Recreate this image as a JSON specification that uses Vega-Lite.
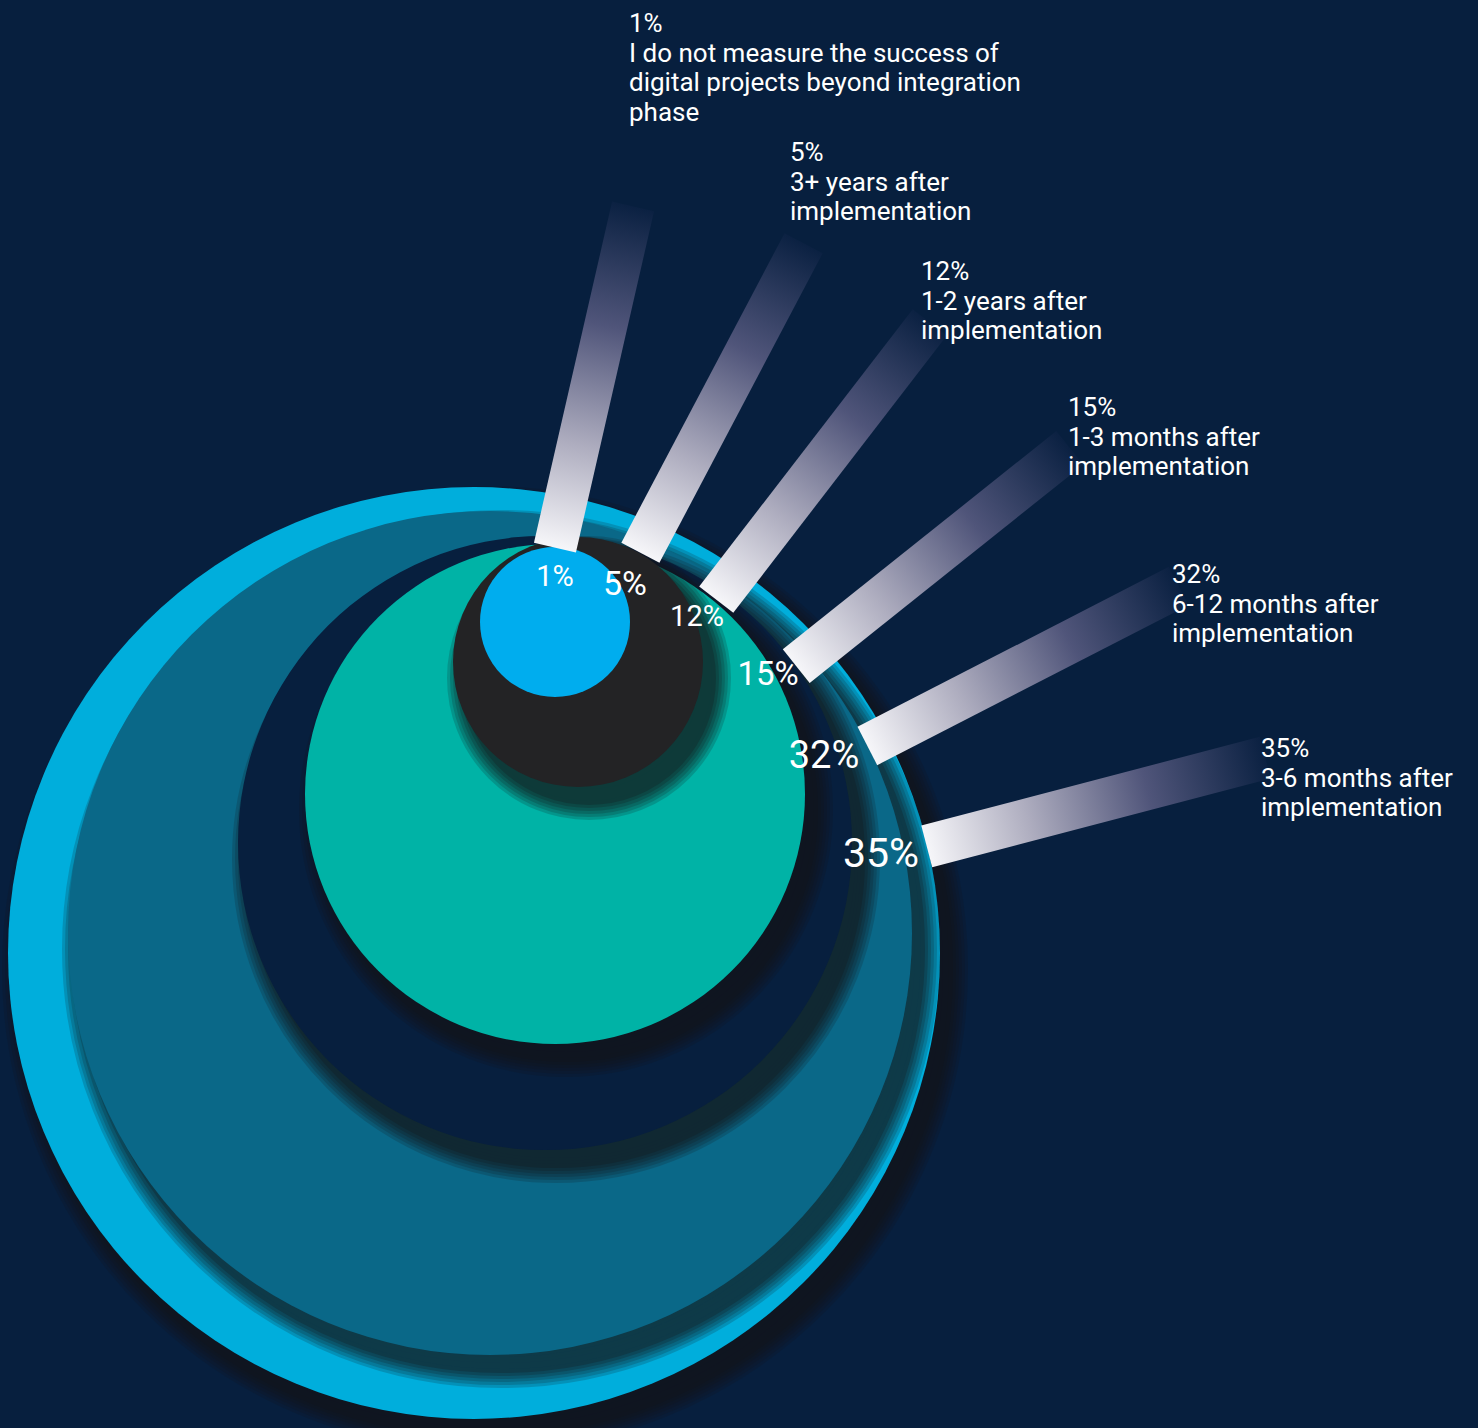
{
  "$schema": "https://vega.github.io/schema/vega-lite/v6.json",
  "width": 1478,
  "height": 1428,
  "autosize": {"type": "none"},
  "padding": 0,
  "background": "#071f3e",
  "config": {"view": {"stroke": null}, "font": "Roboto"},
  "data": {
    "values": [
      {"pct": 0.01, "answer": "I do not measure the success of\ndigital projects beyond integration\nphase"},
      {"pct": 0.05, "answer": "3+ years after\nimplementation"},
      {"pct": 0.12, "answer": "1-2 years after\nimplementation"},
      {"pct": 0.15, "answer": "1-3 months after\nimplementation"},
      {"pct": 0.32, "answer": "6-12 months after\nimplementation"},
      {"pct": 0.35, "answer": "3-6 months after\nimplementation"}
    ]
  },
  "resolve": {"scale": {"x": "independent", "y": "independent", "size": "independent"}},
  "layer": [
    {
      "encoding": {
        "x": {"field": "pct", "type": "quantitative", "axis": null, "scale": {"domain": [0.01,0.05,0.12,0.15,0.32,0.35], "range": [555,578,555,545,490,474], "zero": false, "nice": false}},
        "y": {"field": "pct", "type": "quantitative", "axis": null, "scale": {"domain": [0.01,0.05,0.12,0.15,0.32,0.35], "range": [622,662,794,843,933,953], "zero": false, "nice": false}},
        "size": {"field": "pct", "type": "quantitative", "legend": null, "scale": {"domain": [0.01,0.05,0.12,0.15,0.32,0.35], "range": [22500,62500,250000,376996,712336,868624], "zero": false, "nice": false}}
      },
      "layer": [
        {"transform": [{"filter": "datum.pct === 0.35"}], "layer": [
          {"mark": {"type": "point", "shape": "circle", "filled": true, "fill": "#141418", "stroke": "#141418", "strokeWidth": 34, "opacity": 0.18, "xOffset": 11, "yOffset": 16}},
          {"mark": {"type": "point", "shape": "circle", "filled": true, "fill": "#141418", "stroke": "#141418", "strokeWidth": 28, "opacity": 0.18, "xOffset": 11, "yOffset": 16}},
          {"mark": {"type": "point", "shape": "circle", "filled": true, "fill": "#141418", "stroke": "#141418", "strokeWidth": 22, "opacity": 0.18, "xOffset": 11, "yOffset": 16}},
          {"mark": {"type": "point", "shape": "circle", "filled": true, "fill": "#141418", "stroke": "#141418", "strokeWidth": 16, "opacity": 0.2, "xOffset": 11, "yOffset": 16}},
          {"mark": {"type": "point", "shape": "circle", "filled": true, "fill": "#141418", "stroke": "#141418", "strokeWidth": 10, "opacity": 0.22, "xOffset": 11, "yOffset": 16}},
          {"mark": {"type": "point", "shape": "circle", "filled": true, "fill": "#141418", "stroke": "#141418", "strokeWidth": 4, "opacity": 0.25, "xOffset": 11, "yOffset": 16}},
          {"mark": {"type": "point", "shape": "circle", "filled": true, "opacity": 1, "strokeWidth": 0}, "encoding": {"color": {"field": "pct", "type": "nominal", "legend": null, "scale": {"domain": [0.01,0.05,0.12,0.15,0.32,0.35], "range": ["#00adee","#232325","#00b3a6","#071f3e","#0a6888","#00aedc"]}}}}
        ]},
        {"transform": [{"filter": "datum.pct === 0.32"}], "layer": [
          {"mark": {"type": "point", "shape": "circle", "filled": true, "fill": "#141418", "stroke": "#141418", "strokeWidth": 34, "opacity": 0.18, "xOffset": 11, "yOffset": 16}},
          {"mark": {"type": "point", "shape": "circle", "filled": true, "fill": "#141418", "stroke": "#141418", "strokeWidth": 28, "opacity": 0.18, "xOffset": 11, "yOffset": 16}},
          {"mark": {"type": "point", "shape": "circle", "filled": true, "fill": "#141418", "stroke": "#141418", "strokeWidth": 22, "opacity": 0.18, "xOffset": 11, "yOffset": 16}},
          {"mark": {"type": "point", "shape": "circle", "filled": true, "fill": "#141418", "stroke": "#141418", "strokeWidth": 16, "opacity": 0.2, "xOffset": 11, "yOffset": 16}},
          {"mark": {"type": "point", "shape": "circle", "filled": true, "fill": "#141418", "stroke": "#141418", "strokeWidth": 10, "opacity": 0.22, "xOffset": 11, "yOffset": 16}},
          {"mark": {"type": "point", "shape": "circle", "filled": true, "fill": "#141418", "stroke": "#141418", "strokeWidth": 4, "opacity": 0.25, "xOffset": 11, "yOffset": 16}},
          {"mark": {"type": "point", "shape": "circle", "filled": true, "opacity": 1, "strokeWidth": 0}, "encoding": {"color": {"field": "pct", "type": "nominal", "legend": null, "scale": {"domain": [0.01,0.05,0.12,0.15,0.32,0.35], "range": ["#00adee","#232325","#00b3a6","#071f3e","#0a6888","#00aedc"]}}}}
        ]},
        {"transform": [{"filter": "datum.pct === 0.15"}], "layer": [
          {"mark": {"type": "point", "shape": "circle", "filled": true, "fill": "#141418", "stroke": "#141418", "strokeWidth": 34, "opacity": 0.18, "xOffset": 11, "yOffset": 16}},
          {"mark": {"type": "point", "shape": "circle", "filled": true, "fill": "#141418", "stroke": "#141418", "strokeWidth": 28, "opacity": 0.18, "xOffset": 11, "yOffset": 16}},
          {"mark": {"type": "point", "shape": "circle", "filled": true, "fill": "#141418", "stroke": "#141418", "strokeWidth": 22, "opacity": 0.18, "xOffset": 11, "yOffset": 16}},
          {"mark": {"type": "point", "shape": "circle", "filled": true, "fill": "#141418", "stroke": "#141418", "strokeWidth": 16, "opacity": 0.2, "xOffset": 11, "yOffset": 16}},
          {"mark": {"type": "point", "shape": "circle", "filled": true, "fill": "#141418", "stroke": "#141418", "strokeWidth": 10, "opacity": 0.22, "xOffset": 11, "yOffset": 16}},
          {"mark": {"type": "point", "shape": "circle", "filled": true, "fill": "#141418", "stroke": "#141418", "strokeWidth": 4, "opacity": 0.25, "xOffset": 11, "yOffset": 16}},
          {"mark": {"type": "point", "shape": "circle", "filled": true, "opacity": 1, "strokeWidth": 0}, "encoding": {"color": {"field": "pct", "type": "nominal", "legend": null, "scale": {"domain": [0.01,0.05,0.12,0.15,0.32,0.35], "range": ["#00adee","#232325","#00b3a6","#071f3e","#0a6888","#00aedc"]}}}}
        ]},
        {"transform": [{"filter": "datum.pct === 0.12"}], "layer": [
          {"mark": {"type": "point", "shape": "circle", "filled": true, "fill": "#141418", "stroke": "#141418", "strokeWidth": 34, "opacity": 0.18, "xOffset": 11, "yOffset": 16}},
          {"mark": {"type": "point", "shape": "circle", "filled": true, "fill": "#141418", "stroke": "#141418", "strokeWidth": 28, "opacity": 0.18, "xOffset": 11, "yOffset": 16}},
          {"mark": {"type": "point", "shape": "circle", "filled": true, "fill": "#141418", "stroke": "#141418", "strokeWidth": 22, "opacity": 0.18, "xOffset": 11, "yOffset": 16}},
          {"mark": {"type": "point", "shape": "circle", "filled": true, "fill": "#141418", "stroke": "#141418", "strokeWidth": 16, "opacity": 0.2, "xOffset": 11, "yOffset": 16}},
          {"mark": {"type": "point", "shape": "circle", "filled": true, "fill": "#141418", "stroke": "#141418", "strokeWidth": 10, "opacity": 0.22, "xOffset": 11, "yOffset": 16}},
          {"mark": {"type": "point", "shape": "circle", "filled": true, "fill": "#141418", "stroke": "#141418", "strokeWidth": 4, "opacity": 0.25, "xOffset": 11, "yOffset": 16}},
          {"mark": {"type": "point", "shape": "circle", "filled": true, "opacity": 1, "strokeWidth": 0}, "encoding": {"color": {"field": "pct", "type": "nominal", "legend": null, "scale": {"domain": [0.01,0.05,0.12,0.15,0.32,0.35], "range": ["#00adee","#232325","#00b3a6","#071f3e","#0a6888","#00aedc"]}}}}
        ]},
        {"transform": [{"filter": "datum.pct === 0.05"}], "layer": [
          {"mark": {"type": "point", "shape": "circle", "filled": true, "fill": "#141418", "stroke": "#141418", "strokeWidth": 34, "opacity": 0.18, "xOffset": 11, "yOffset": 16}},
          {"mark": {"type": "point", "shape": "circle", "filled": true, "fill": "#141418", "stroke": "#141418", "strokeWidth": 28, "opacity": 0.18, "xOffset": 11, "yOffset": 16}},
          {"mark": {"type": "point", "shape": "circle", "filled": true, "fill": "#141418", "stroke": "#141418", "strokeWidth": 22, "opacity": 0.18, "xOffset": 11, "yOffset": 16}},
          {"mark": {"type": "point", "shape": "circle", "filled": true, "fill": "#141418", "stroke": "#141418", "strokeWidth": 16, "opacity": 0.2, "xOffset": 11, "yOffset": 16}},
          {"mark": {"type": "point", "shape": "circle", "filled": true, "fill": "#141418", "stroke": "#141418", "strokeWidth": 10, "opacity": 0.22, "xOffset": 11, "yOffset": 16}},
          {"mark": {"type": "point", "shape": "circle", "filled": true, "fill": "#141418", "stroke": "#141418", "strokeWidth": 4, "opacity": 0.25, "xOffset": 11, "yOffset": 16}},
          {"mark": {"type": "point", "shape": "circle", "filled": true, "opacity": 1, "strokeWidth": 0}, "encoding": {"color": {"field": "pct", "type": "nominal", "legend": null, "scale": {"domain": [0.01,0.05,0.12,0.15,0.32,0.35], "range": ["#00adee","#232325","#00b3a6","#071f3e","#0a6888","#00aedc"]}}}}
        ]},
        {"transform": [{"filter": "datum.pct === 0.01"}], "layer": [
          {"mark": {"type": "point", "shape": "circle", "filled": true, "opacity": 1, "strokeWidth": 0}, "encoding": {"color": {"field": "pct", "type": "nominal", "legend": null, "scale": {"domain": [0.01,0.05,0.12,0.15,0.32,0.35], "range": ["#00adee","#232325","#00b3a6","#071f3e","#0a6888","#00aedc"]}}}}
        ]}
      ]
    },
    {
      "mark": {
        "type": "point",
        "shape": "M-1,-0.123L1,-0.123L1,0.123L-1,0.123Z",
        "filled": true,
        "opacity": 1,
        "size": 122500,
        "strokeWidth": 0,
        "fill": {"gradient": "linear", "x1": 0, "y1": 0, "x2": 1, "y2": 0, "stops": [
          {"offset": 0, "color": "#f6f6f9"},
          {"offset": 0.3, "color": "#aeadbf"},
          {"offset": 0.65, "color": "#50557a"},
          {"offset": 1, "color": "#0b2142"}
        ]}
      },
      "encoding": {
        "x": {"field": "pct", "type": "quantitative", "axis": null, "scale": {"domain": [0.01,0.05,0.12,0.15,0.32,0.35], "range": [594,722,823,933,1023,1096], "zero": false, "nice": false}},
        "y": {"field": "pct", "type": "quantitative", "axis": null, "scale": {"domain": [0.01,0.05,0.12,0.15,0.32,0.35], "range": [377,398,461,557,666,802], "zero": false, "nice": false}},
        "angle": {"field": "pct", "type": "quantitative", "legend": null, "scale": {"domain": [0.01,0.05,0.12,0.15,0.32,0.35], "range": [282.9,297.8,307.6,321.4,332.8,345.3], "zero": false, "nice": false}}
      }
    },
    {
      "mark": {"type": "text", "font": "Roboto", "color": "#ffffff", "align": "center", "baseline": "middle"},
      "encoding": {
        "x": {"field": "pct", "type": "quantitative", "axis": null, "scale": {"domain": [0.01,0.05,0.12,0.15,0.32,0.35], "range": [555,625,697,768,824,881], "zero": false, "nice": false}},
        "y": {"field": "pct", "type": "quantitative", "axis": null, "scale": {"domain": [0.01,0.05,0.12,0.15,0.32,0.35], "range": [577,585,617,675,757,855], "zero": false, "nice": false}},
        "size": {"field": "pct", "type": "quantitative", "legend": null, "scale": {"domain": [0.01,0.05,0.12,0.15,0.32,0.35], "range": [29,34,29,33,38,41], "zero": false, "nice": false}},
        "text": {"field": "pct", "type": "quantitative", "format": ".0%"}
      }
    },
    {
      "encoding": {
        "x": {"field": "pct", "type": "quantitative", "axis": null, "scale": {"domain": [0.01,0.05,0.12,0.15,0.32,0.35], "range": [629,790,921,1068,1172,1261], "zero": false, "nice": false}},
        "y": {"field": "pct", "type": "quantitative", "axis": null, "scale": {"domain": [0.01,0.05,0.12,0.15,0.32,0.35], "range": [32,161,280,416,583,757], "zero": false, "nice": false}}
      },
      "layer": [
        {"mark": {"type": "text", "font": "Roboto", "fontSize": 26, "color": "#ffffff", "align": "left", "baseline": "alphabetic"},
         "encoding": {"text": {"field": "pct", "type": "quantitative", "format": ".0%"}}},
        {"mark": {"type": "text", "font": "Roboto", "fontSize": 26, "color": "#ffffff", "align": "left", "baseline": "alphabetic", "dy": 29.5, "lineHeight": 29.5, "lineBreak": "\n"},
         "encoding": {"text": {"field": "answer", "type": "nominal"}}}
      ]
    }
  ]
}
